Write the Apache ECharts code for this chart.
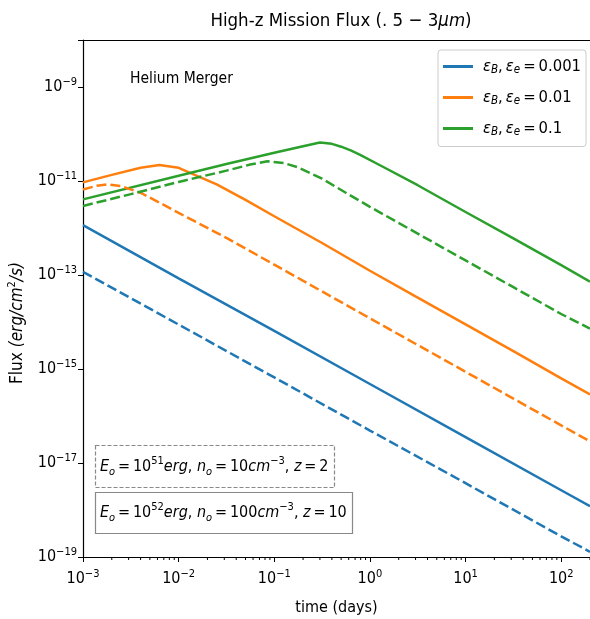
<!DOCTYPE html>
<html>
<head>
<meta charset="utf-8">
<script src="https://cdn.jsdelivr.net/npm/echarts@6/dist/echarts.min.js"></script>
<style>
  html, body { margin: 0; padding: 0; background: #fff; }
  #chart { width: 590px; height: 619px; }
</style>
</head>
<body>
<div id="chart"></div>
<script>
// afterglow light curves (time in days, flux in erg/cm^2/s)
const straightTimes = [0.001, 0.01, 0.1, 1, 10, 100, 200];
const blueSolidFlux = [1.15e-12, 8.51e-14, 6.46e-15, 4.79e-16, 3.55e-17, 2.63e-18, 1.20e-18];
const blueDashFlux = [1.17e-13, 8.81e-15, 6.61e-16, 4.90e-17, 3.72e-18, 2.75e-19, 1.29e-19];

const orangeSolidTimes = [0.001, 0.002, 0.004, 0.0063, 0.01, 0.016, 0.025, 0.05, 0.1, 0.316, 1, 3.16, 10, 31.6, 100, 200];
const orangeSolidFlux = [9.33e-12, 1.35e-11, 1.91e-11, 2.19e-11, 1.91e-11, 1.26e-11, 8.51e-12, 3.98e-12, 1.78e-12, 4.79e-13, 1.23e-13, 3.31e-14, 8.91e-15, 2.40e-15, 6.31e-16, 2.88e-16];

const orangeDashTimes = [0.001, 0.0014, 0.0018, 0.0025, 0.004, 0.0063, 0.01, 0.0316, 0.1, 0.316, 1, 3.16, 10, 31.6, 100, 200];
const orangeDashFlux = [6.61e-12, 7.94e-12, 8.51e-12, 7.76e-12, 5.62e-12, 3.47e-12, 2.09e-12, 6.17e-13, 1.66e-13, 4.47e-14, 1.20e-14, 3.24e-15, 8.71e-16, 2.34e-16, 6.31e-17, 2.88e-17];

const greenSolidTimes = [0.001, 0.01, 0.0316, 0.1, 0.2, 0.3, 0.4, 0.5, 0.63, 0.8, 1.26, 3.16, 10, 31.6, 100, 200];
const greenSolidFlux = [4.07e-12, 1.29e-11, 2.29e-11, 3.98e-11, 5.50e-11, 6.61e-11, 6.17e-11, 5.37e-11, 4.47e-11, 3.55e-11, 2.19e-11, 8.13e-12, 2.19e-12, 6.03e-13, 1.62e-13, 7.24e-14];

const greenDashTimes = [0.001, 0.00316, 0.01, 0.0316, 0.056, 0.085, 0.126, 0.178, 0.316, 0.56, 1, 3.16, 10, 31.6, 100, 200];
const greenDashFlux = [2.95e-12, 5.25e-12, 9.55e-12, 1.66e-11, 2.24e-11, 2.63e-11, 2.40e-11, 1.95e-11, 1.12e-11, 5.62e-12, 2.82e-12, 7.59e-13, 2.04e-13, 5.50e-14, 1.48e-14, 7.24e-15];

const epsValues = ['0.001', '0.01', '0.1'];
const xTickExps = [-3, -2, -1, 0, 1, 2];
const yTickExps = [-19, -17, -15, -13, -11, -9];

const colors = { blue: '#1f77b4', orange: '#ff7f0e', green: '#2ca02c' };
const FONT = "'DejaVu Sans'";
// the reference text is narrow; ask the canvas for the condensed face via the font shorthand
const NARROW = 'condensed';
const TS = '\u2009'; // thin space, like mathtext spacing

const zip = (ts, fs) => ts.map((t, i) => [t, fs[i]]);
const seriesName = (v) => 'εB, εe = ' + v;

// matplotlib-like minor ticks on the log time axis (2..9 per decade)
const minorTicks = [];
for (let e = -3; e <= 2; e++) {
  for (let m = 2; m <= 9; m++) {
    const v = m * Math.pow(10, e);
    if (v <= 200) minorTicks.push([v, 1e-19]);
  }
}

const expOf = (v) => Math.round(Math.log10(v));
const isDecade = (v) => Math.abs(Math.log10(v) - expOf(v)) < 1e-6;
const supText = (e) => '{n|10}{sup|' + (e < 0 ? '−' + (-e) : e) + '}';

const txt = (size, extra) => Object.assign({ fontSize: size, fontFamily: FONT, fontWeight: NARROW, color: '#000' }, extra || {});

const tickRich = {
  n: txt(16, { lineHeight: 20 }),
  sup: txt(11, { verticalAlign: 'top', lineHeight: 12 }),
};

const mathRich = {
  n: txt(16, { lineHeight: 22 }),
  i: txt(16, { fontStyle: 'italic', lineHeight: 22 }),
  sub: txt(11, { fontStyle: 'italic', verticalAlign: 'bottom', lineHeight: 13 }),
  sup: txt(11, { verticalAlign: 'top', lineHeight: 13 }),
};

function lineSeries(name, data, color, dashed) {
  return {
    name: name,
    type: 'line',
    data: data,
    symbol: 'none',
    smooth: false,
    lineStyle: { color: color, width: 2.5, type: dashed ? [10, 4] : 'solid' },
    itemStyle: { color: color },
    z: 3,
  };
}

const chart = echarts.init(document.getElementById('chart'));

const option = {
  animation: false,
  backgroundColor: '#fff',
  title: {
    text: '{n|High-z Mission Flux (. 5 − 3}{i|μm}{n|)}',
    left: 336,
    textAlign: 'center',
    top: 7,
    textStyle: {
      rich: {
        n: txt(18.5),
        i: txt(18.5, { fontStyle: 'italic' }),
      },
    },
  },
  grid: { left: 83, right: 0, top: 40, bottom: 62, containLabel: false, outerBoundsMode: 'none' },
  legend: {
    data: epsValues.map(seriesName),
    orient: 'vertical',
    left: 438,
    top: 50,
    padding: [8, 5, 8, 5],
    icon: 'rect',
    itemWidth: 30,
    itemHeight: 3,
    itemGap: 12.5,
    backgroundColor: 'rgba(255,255,255,0.8)',
    borderColor: '#cccccc',
    borderWidth: 1,
    borderRadius: 3,
    formatter: (name) => {
      const v = name.split('= ')[1];
      return '{i|ε}{sub|B}{n|,' + TS + '}{i|ε}{sub|e}{n|' + TS + '=' + TS + v + '}';
    },
    textStyle: {
      padding: [0, 0, 0, 5],
      rich: {
        n: txt(16.5, { lineHeight: 20 }),
        i: txt(16.5, { fontStyle: 'italic', lineHeight: 20 }),
        sub: txt(11.5, { fontStyle: 'italic', verticalAlign: 'bottom', lineHeight: 12 }),
      },
    },
  },
  xAxis: [
    {
      type: 'log',
      logBase: 10,
      min: 0.001,
      max: 200,
      interval: 1,
      name: 'time (days)',
      nameLocation: 'middle',
      nameGap: 43,
      nameTextStyle: txt(16),
      axisLine: { lineStyle: { color: '#000', width: 1.2 } },
      axisTick: { show: true, length: 5, inside: false, lineStyle: { color: '#000', width: 1 } },
      axisLabel: {
        margin: 12,
        formatter: (v) => (isDecade(v) && xTickExps.includes(expOf(v)) ? supText(expOf(v)) : ''),
        rich: tickRich,
      },
      splitLine: { show: false },
    },
    {
      type: 'log',
      logBase: 10,
      min: 0.001,
      max: 200,
      position: 'top',
      axisLine: { lineStyle: { color: '#000', width: 1.2 } },
      axisTick: { show: false },
      axisLabel: { show: false },
      splitLine: { show: false },
    },
  ],
  yAxis: {
    type: 'log',
    logBase: 10,
    min: 1e-19,
    max: 1e-8,
    interval: 2,
    axisLine: { show: true, lineStyle: { color: '#000', width: 1.2 } },
    axisTick: { show: true, length: 5, lineStyle: { color: '#000', width: 1 } },
    axisLabel: {
      margin: 6,
      formatter: (v) => (yTickExps.includes(expOf(v)) ? supText(expOf(v)) : ''),
      rich: tickRich,
    },
    splitLine: { show: false },
  },
  graphic: [
    {
      type: 'text',
      x: 18,
      y: 323,
      rotation: Math.PI / 2,
      style: {
        text: '{n|Flux }{i|(erg/cm}{sup|2}{i|/s)}',
        align: 'center',
        verticalAlign: 'middle',
        rich: {
          n: txt(17, { lineHeight: 22 }),
          i: txt(17, { fontStyle: 'italic', lineHeight: 22 }),
          sup: txt(11, { verticalAlign: 'top', lineHeight: 12 }),
        },
      },
    },
    {
      type: 'text',
      x: 130,
      y: 79,
      style: {
        text: 'Helium Merger',
        font: 'normal condensed 15.5px ' + FONT,
        fill: '#000',
        verticalAlign: 'middle',
      },
    },
    {
      type: 'rect',
      shape: { x: 95.5, y: 445.5, width: 239, height: 42 },
      style: { fill: '#fff', stroke: '#888', lineWidth: 1.2, lineDash: [4, 2] },
      z: 10,
    },
    {
      type: 'text',
      x: 100,
      y: 467,
      z: 11,
      style: {
        text: '{i|E}{sub|o}{n|' + TS + '=' + TS + '10}{sup|51}{i|erg}{n|, }{i|n}{sub|o}{n|' + TS + '=' + TS + '10}{i|cm}{sup|−3}{n|, }{i|z}{n|' + TS + '=' + TS + '2}',
        verticalAlign: 'middle',
        rich: mathRich,
      },
    },
    {
      type: 'rect',
      shape: { x: 95.5, y: 492.5, width: 257, height: 41 },
      style: { fill: '#fff', stroke: '#888', lineWidth: 1.2 },
      z: 10,
    },
    {
      type: 'text',
      x: 100,
      y: 513,
      z: 11,
      style: {
        text: '{i|E}{sub|o}{n|' + TS + '=' + TS + '10}{sup|52}{i|erg}{n|, }{i|n}{sub|o}{n|' + TS + '=' + TS + '100}{i|cm}{sup|−3}{n|, }{i|z}{n|' + TS + '=' + TS + '10}',
        verticalAlign: 'middle',
        rich: mathRich,
      },
    },
  ],
  series: [
    lineSeries(seriesName(epsValues[0]), zip(straightTimes, blueSolidFlux), colors.blue, false),
    lineSeries(seriesName(epsValues[1]), zip(orangeSolidTimes, orangeSolidFlux), colors.orange, false),
    lineSeries(seriesName(epsValues[2]), zip(greenSolidTimes, greenSolidFlux), colors.green, false),
    lineSeries(seriesName(epsValues[0]) + ' (z=2)', zip(straightTimes, blueDashFlux), colors.blue, true),
    lineSeries(seriesName(epsValues[1]) + ' (z=2)', zip(orangeDashTimes, orangeDashFlux), colors.orange, true),
    lineSeries(seriesName(epsValues[2]) + ' (z=2)', zip(greenDashTimes, greenDashFlux), colors.green, true),
    {
      name: 'minor ticks',
      type: 'custom',
      silent: true,
      clip: false,
      z: 5,
      data: minorTicks,
      renderItem: (params, api) => {
        const p = api.coord([api.value(0), api.value(1)]);
        return {
          type: 'line',
          shape: { x1: p[0], y1: p[1], x2: p[0], y2: p[1] + 3 },
          style: { stroke: '#000', lineWidth: 1 },
        };
      },
    },
  ],
};

chart.setOption(option);
</script>
</body>
</html>
